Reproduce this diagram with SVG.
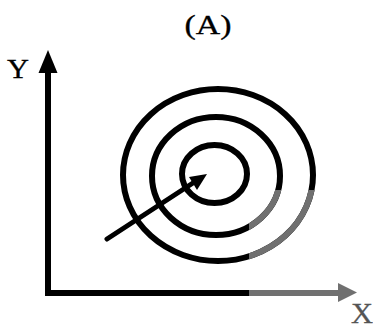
<svg xmlns="http://www.w3.org/2000/svg" width="373" height="328" viewBox="0 0 373 328">
<style>
.ring{fill:none;stroke:#000;stroke-width:6}
.ring.g{stroke:#707070}
.lbl{font-family:"Liberation Serif","Times New Roman",serif;fill:#000;stroke:#000;stroke-width:0.3}
</style>
<defs>
<clipPath id="grayq"><rect x="249" y="190" width="124" height="138"/></clipPath>
</defs>
<rect width="373" height="328" fill="#fff"/>
<text class="lbl" x="208" y="34" font-size="27" text-anchor="middle" textLength="47" lengthAdjust="spacingAndGlyphs">(A)</text>
<g id="contours">
<ellipse class="ring" cx="218" cy="175" rx="95" ry="86"/>
<ellipse class="ring" cx="216" cy="176" rx="64" ry="59"/>
<ellipse class="ring" cx="214.5" cy="174" rx="32.5" ry="29"/>
<g clip-path="url(#grayq)">
<ellipse class="ring g" cx="218" cy="175" rx="95" ry="86"/>
<ellipse class="ring g" cx="216" cy="176" rx="64" ry="59"/>
</g>
</g>
<g id="connectors">
<line x1="107" y1="239" x2="196" y2="181" stroke="#000" stroke-width="5" stroke-linecap="round"/>
<polygon points="207,174 189,177 197,190" fill="#000"/>
</g>
<g id="axes">
<line x1="48" y1="70" x2="48" y2="296" stroke="#000" stroke-width="6"/>
<polygon points="48,50 38.5,73 57.5,73" fill="#000"/>
<line x1="45" y1="293" x2="249" y2="293" stroke="#000" stroke-width="6"/>
<line x1="249" y1="293" x2="340" y2="293" stroke="#707070" stroke-width="6"/>
<polygon points="357,292.5 338,283 338,302" fill="#707070"/>
</g>
<text class="lbl" x="18" y="78" font-size="27" text-anchor="middle" textLength="22" lengthAdjust="spacingAndGlyphs">Y</text>
<text class="lbl" x="362" y="323" font-size="30" text-anchor="middle" textLength="22" lengthAdjust="spacingAndGlyphs" style="fill:#555;stroke:#555">X</text>
</svg>
